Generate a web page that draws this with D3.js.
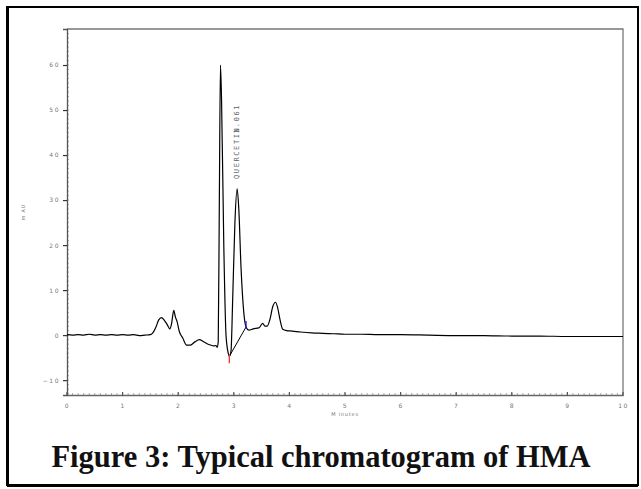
<!DOCTYPE html>
<html>
<head>
<meta charset="utf-8">
<script src="https://cdn.jsdelivr.net/npm/d3@7"></script>
<style>
  body { margin: 0; background: #fff; }
  svg { display: block; }
</style>
</head>
<body>
<svg id="chart" width="641" height="489"></svg>
<script>
// Retention time (min) and detector response (mAU)
const times = [
  0.0, 0.1, 0.2, 0.3, 0.4, 0.5, 0.6, 0.7, 0.8, 0.9, 1.0, 1.1, 1.2, 1.3, 1.4, 1.5,
  1.55, 1.6, 1.65, 1.7, 1.75, 1.8, 1.85, 1.88, 1.92, 1.95, 1.98, 2.02, 2.08, 2.15,
  2.22, 2.3, 2.38, 2.45, 2.52, 2.58, 2.64, 2.68, 2.7, 2.72, 2.74, 2.76, 2.78, 2.82,
  2.86, 2.9, 2.92, 2.95, 2.98, 3.02, 3.06, 3.09, 3.13, 3.18, 3.22, 3.27, 3.35, 3.45,
  3.52, 3.56, 3.6, 3.65, 3.7, 3.75, 3.79, 3.83, 3.88, 3.95, 4.05, 4.2, 4.4, 4.6,
  4.8, 5.0, 5.3, 5.6, 6.0, 6.5, 7.0, 7.5, 8.0, 8.5, 9.0, 9.5, 10.0
];
const mAU = [
  0.1, 0.0, 0.1, 0.0, 0.2, 0.0, 0.1, 0.0, 0.1, 0.0, 0.1, 0.0, 0.1, -0.1, 0.0, 0.1,
  0.6, 1.8, 3.4, 3.9, 3.3, 2.4, 1.4, 2.5, 5.5, 4.0, 3.0, 0.8, -0.6, -2.2,
  -2.2, -1.5, -1.0, -1.4, -1.9, -2.2, -2.4, -2.3, -2.7, -1.5, 30, 60, 52, 20,
  0, -4, -4.7, -3.5, 8, 25, 32.5, 28, 15, 5, 1.8, 1.1, 1.4, 1.6,
  2.6, 2.0, 2.0, 3.5, 6.3, 7.3, 6.0, 3.5, 1.3, 1.0, 0.9, 0.7, 0.5, 0.4,
  0.3, 0.2, 0.2, 0.1, 0.1, 0.0, -0.1, -0.1, -0.2, -0.2, -0.3, -0.3, -0.3
];

// Integrated peak: start / end of the drawn baseline
const peakName = 'QUERCETIN';
const peakTime = '3.061';
const baseStart = [2.92, -4.7];
const baseEnd = [3.22, 1.8];

const xTicks = [0, 1, 2, 3, 4, 5, 6, 7, 8, 9, 10];
const yTicks = [-10, 0, 10, 20, 30, 40, 50, 60];

const svg = d3.select('#chart');

// outer figure box
svg.append('rect')
  .attr('x', 7).attr('y', 7)
  .attr('width', 631).attr('height', 478)
  .attr('fill', 'none')
  .attr('stroke', '#000')
  .attr('stroke-width', 2);
svg.append('line').attr('x1', 8).attr('x2', 8).attr('y1', 7).attr('y2', 486)
  .attr('stroke', '#000').attr('stroke-width', 2);
svg.append('line').attr('x1', 7).attr('x2', 638).attr('y1', 486).attr('y2', 486)
  .attr('stroke', '#000').attr('stroke-width', 2);

const pLeft = 67, pRight = 623, pTop = 29, pBottom = 395;

const x = d3.scaleLinear().domain([0, 10]).range([pLeft, pRight]);
const y = d3.scaleLinear().domain([-13.3, 68]).range([pBottom, pTop]);

// frame: top and right in grey
svg.append('path')
  .attr('d', `M${pLeft},${pTop}H${pRight}V${pBottom}`)
  .attr('fill', 'none')
  .attr('stroke', '#777')
  .attr('stroke-width', 1.3);

// minor ticks
const xMinor = d3.range(0, 100).map(i => i / 10);
svg.append('g').selectAll('line')
  .data(xMinor)
  .enter()
  .append('line')
  .attr('x1', d => x(d)).attr('x2', d => x(d))
  .attr('y1', pBottom - 2).attr('y2', pBottom)
  .attr('stroke', '#999').attr('stroke-width', 0.8);

const yMinor = d3.range(-13, 68);
svg.append('g').selectAll('line')
  .data(yMinor)
  .enter()
  .append('line')
  .attr('x1', pLeft).attr('x2', pLeft + 2)
  .attr('y1', d => y(d)).attr('y2', d => y(d))
  .attr('stroke', '#999').attr('stroke-width', 0.8);

const tickText = { 'font-family': 'DejaVu Sans, sans-serif', 'font-size': '6px', 'fill': '#777', 'letter-spacing': '1.5px' };

// x axis
const xAxis = svg.append('g')
  .attr('transform', `translate(0,${pBottom})`)
  .call(d3.axisBottom(x).tickValues(xTicks).tickSize(0).tickPadding(9).tickFormat(d3.format('d')));
xAxis.select('.domain').attr('stroke', '#666').attr('stroke-width', 1.6);
xAxis.selectAll('text').each(function() {
  const t = d3.select(this);
  for (const k in tickText) t.style(k, tickText[k]);
});
svg.append('g').selectAll('line')
  .data(xTicks)
  .enter()
  .append('line')
  .attr('x1', d => x(d)).attr('x2', d => x(d))
  .attr('y1', pBottom - 3).attr('y2', pBottom + 1)
  .attr('stroke', '#555').attr('stroke-width', 1.2);

// y axis
const yAxis = svg.append('g')
  .attr('transform', `translate(${pLeft},0)`)
  .call(d3.axisLeft(y).tickValues(yTicks).tickSize(4).tickPadding(3).tickFormat(d3.format('d')));
yAxis.select('.domain').attr('stroke', '#555').attr('stroke-width', 1.3);
yAxis.selectAll('.tick line').attr('stroke', '#333').attr('stroke-width', 1.2);
yAxis.selectAll('text').each(function() {
  const t = d3.select(this);
  for (const k in tickText) t.style(k, tickText[k]);
});

// axis titles
svg.append('text')
  .attr('x', x(5)).attr('y', 416)
  .attr('text-anchor', 'middle')
  .style('font-family', 'DejaVu Sans, sans-serif')
  .style('font-size', '5px').style('fill', '#777').style('letter-spacing', '0.8px')
  .text('M inutes');
svg.append('text')
  .attr('transform', `translate(25,${y(30) + 12}) rotate(-90)`)
  .attr('text-anchor', 'middle')
  .style('font-family', 'DejaVu Sans, sans-serif')
  .style('font-size', '5px').style('fill', '#777').style('letter-spacing', '0.8px')
  .text('m AU');

// the trace
const pts = times.map((t, i) => [t, mAU[i]]);
const line = d3.line().x(d => x(d[0])).y(d => y(d[1])).curve(d3.curveMonotoneX);
svg.append('path')
  .datum(pts)
  .attr('d', line)
  .attr('fill', 'none')
  .attr('stroke', '#000')
  .attr('stroke-width', 1.2)
  .attr('stroke-linejoin', 'round');

// integration baseline + start/end markers
svg.append('line')
  .attr('x1', x(baseStart[0])).attr('y1', y(baseStart[1]))
  .attr('x2', x(baseEnd[0])).attr('y2', y(baseEnd[1]))
  .attr('stroke', '#000').attr('stroke-width', 1);
svg.append('line')
  .attr('x1', x(baseStart[0])).attr('x2', x(baseStart[0]))
  .attr('y1', y(baseStart[1]) - 2).attr('y2', y(baseStart[1]) + 7)
  .attr('stroke', '#e33').attr('stroke-width', 1.3);
svg.append('line')
  .attr('x1', x(baseEnd[0])).attr('x2', x(baseEnd[0]))
  .attr('y1', y(baseEnd[1]) - 6).attr('y2', y(baseEnd[1]) + 2)
  .attr('stroke', '#22c').attr('stroke-width', 1.3);

// peak label, rotated
const labelX = x(3.06) + 2;
const lab = { 'font-family': 'DejaVu Sans Mono, monospace', 'font-size': '7px', 'fill': '#666', 'letter-spacing': '1.6px' };
const t1 = svg.append('text')
  .attr('transform', `translate(${labelX},179) rotate(-90)`)
  .text(peakName);
const t2 = svg.append('text')
  .attr('transform', `translate(${labelX},133) rotate(-90)`)
  .text(peakTime);
[t1, t2].forEach(t => { for (const k in lab) t.style(k, lab[k]); });

// caption
svg.append('text')
  .attr('x', 321).attr('y', 467)
  .attr('text-anchor', 'middle')
  .style('font-family', 'Liberation Serif, serif')
  .style('font-weight', 'bold')
  .style('font-size', '30.5px')
  .style('fill', '#111')
  .text('Figure 3: Typical chromatogram of HMA');
</script>
</body>
</html>
